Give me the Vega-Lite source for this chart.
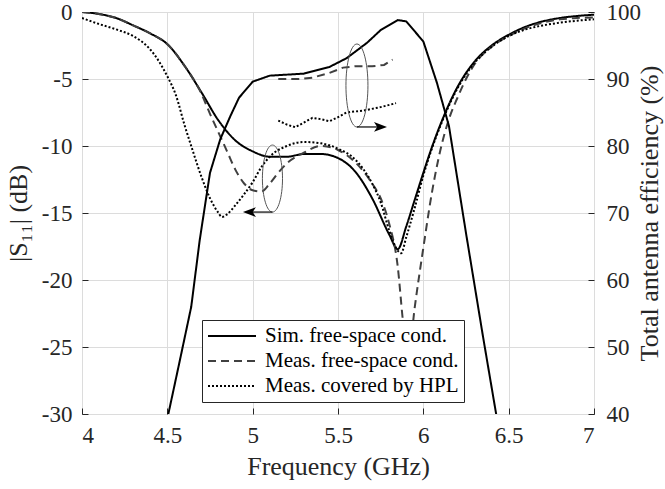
{
  "$schema": "https://vega.github.io/schema/vega-lite/v6.json",
  "width": 512,
  "height": 402,
  "autosize": "none",
  "padding": {"left": 82, "top": 12, "right": 71, "bottom": 75},
  "background": "white",
  "config": {
    "view": {"stroke": "#262626", "strokeWidth": 1},
    "font": "Liberation Serif",
    "axis": {
      "labelFont": "Liberation Serif",
      "titleFont": "Liberation Serif",
      "labelFontSize": 23,
      "titleFontSize": 26,
      "titleFontWeight": "normal",
      "labelColor": "#262626",
      "titleColor": "#262626",
      "domain": false,
      "tickColor": "#262626",
      "tickSize": -6,
      "gridColor": "#dcdcdc",
      "gridWidth": 1
    }
  },
  "datasets": {
    "s11": [
      {"f": 4.0, "v": 0, "series": "Sim. free-space cond."},
      {"f": 4.1, "v": -0.15, "series": "Sim. free-space cond."},
      {"f": 4.2, "v": -0.45, "series": "Sim. free-space cond."},
      {"f": 4.3, "v": -1.0, "series": "Sim. free-space cond."},
      {"f": 4.4, "v": -1.6, "series": "Sim. free-space cond."},
      {"f": 4.5, "v": -2.4, "series": "Sim. free-space cond."},
      {"f": 4.6, "v": -4.0, "series": "Sim. free-space cond."},
      {"f": 4.7, "v": -6.0, "series": "Sim. free-space cond."},
      {"f": 4.8, "v": -8.1, "series": "Sim. free-space cond."},
      {"f": 4.9, "v": -9.6, "series": "Sim. free-space cond."},
      {"f": 5.0, "v": -10.4, "series": "Sim. free-space cond."},
      {"f": 5.1, "v": -10.8, "series": "Sim. free-space cond."},
      {"f": 5.2, "v": -10.8, "series": "Sim. free-space cond."},
      {"f": 5.3, "v": -10.6, "series": "Sim. free-space cond."},
      {"f": 5.4, "v": -10.6, "series": "Sim. free-space cond."},
      {"f": 5.5, "v": -10.9, "series": "Sim. free-space cond."},
      {"f": 5.6, "v": -11.9, "series": "Sim. free-space cond."},
      {"f": 5.7, "v": -13.9, "series": "Sim. free-space cond."},
      {"f": 5.8, "v": -16.6, "series": "Sim. free-space cond."},
      {"f": 5.85, "v": -17.7, "series": "Sim. free-space cond."},
      {"f": 5.9, "v": -16.0, "series": "Sim. free-space cond."},
      {"f": 5.95, "v": -14.0, "series": "Sim. free-space cond."},
      {"f": 6.0, "v": -12.0, "series": "Sim. free-space cond."},
      {"f": 6.05, "v": -10.1, "series": "Sim. free-space cond."},
      {"f": 6.1, "v": -8.4, "series": "Sim. free-space cond."},
      {"f": 6.2, "v": -5.6, "series": "Sim. free-space cond."},
      {"f": 6.3, "v": -3.7, "series": "Sim. free-space cond."},
      {"f": 6.4, "v": -2.5, "series": "Sim. free-space cond."},
      {"f": 6.5, "v": -1.7, "series": "Sim. free-space cond."},
      {"f": 6.6, "v": -1.1, "series": "Sim. free-space cond."},
      {"f": 6.7, "v": -0.7, "series": "Sim. free-space cond."},
      {"f": 6.8, "v": -0.45, "series": "Sim. free-space cond."},
      {"f": 6.9, "v": -0.3, "series": "Sim. free-space cond."},
      {"f": 7.0, "v": -0.2, "series": "Sim. free-space cond."},

      {"f": 4.0, "v": 0, "series": "Meas. free-space cond."},
      {"f": 4.1, "v": -0.15, "series": "Meas. free-space cond."},
      {"f": 4.2, "v": -0.45, "series": "Meas. free-space cond."},
      {"f": 4.3, "v": -1.0, "series": "Meas. free-space cond."},
      {"f": 4.4, "v": -1.6, "series": "Meas. free-space cond."},
      {"f": 4.5, "v": -2.4, "series": "Meas. free-space cond."},
      {"f": 4.6, "v": -4.0, "series": "Meas. free-space cond."},
      {"f": 4.7, "v": -6.1, "series": "Meas. free-space cond."},
      {"f": 4.75, "v": -7.6, "series": "Meas. free-space cond."},
      {"f": 4.8, "v": -9.0, "series": "Meas. free-space cond."},
      {"f": 4.85, "v": -10.4, "series": "Meas. free-space cond."},
      {"f": 4.9, "v": -11.8, "series": "Meas. free-space cond."},
      {"f": 4.95, "v": -12.8, "series": "Meas. free-space cond."},
      {"f": 5.0, "v": -13.3, "series": "Meas. free-space cond."},
      {"f": 5.05, "v": -13.4, "series": "Meas. free-space cond."},
      {"f": 5.1, "v": -12.8, "series": "Meas. free-space cond."},
      {"f": 5.15, "v": -12.0, "series": "Meas. free-space cond."},
      {"f": 5.2, "v": -11.3, "series": "Meas. free-space cond."},
      {"f": 5.3, "v": -10.5, "series": "Meas. free-space cond."},
      {"f": 5.4, "v": -10.0, "series": "Meas. free-space cond."},
      {"f": 5.5, "v": -10.3, "series": "Meas. free-space cond."},
      {"f": 5.6, "v": -11.2, "series": "Meas. free-space cond."},
      {"f": 5.7, "v": -12.8, "series": "Meas. free-space cond."},
      {"f": 5.75, "v": -13.9, "series": "Meas. free-space cond."},
      {"f": 5.8, "v": -15.8, "series": "Meas. free-space cond."},
      {"f": 5.85, "v": -19.0, "series": "Meas. free-space cond."},
      {"f": 5.88, "v": -23.0, "series": "Meas. free-space cond."},
      {"f": 5.91, "v": -26.0, "series": "Meas. free-space cond."},
      {"f": 5.95, "v": -22.0, "series": "Meas. free-space cond."},
      {"f": 6.0, "v": -17.6, "series": "Meas. free-space cond."},
      {"f": 6.05, "v": -13.5, "series": "Meas. free-space cond."},
      {"f": 6.1, "v": -10.3, "series": "Meas. free-space cond."},
      {"f": 6.15, "v": -8.0, "series": "Meas. free-space cond."},
      {"f": 6.2, "v": -6.4, "series": "Meas. free-space cond."},
      {"f": 6.25, "v": -5.0, "series": "Meas. free-space cond."},
      {"f": 6.3, "v": -3.9, "series": "Meas. free-space cond."},
      {"f": 6.4, "v": -2.6, "series": "Meas. free-space cond."},
      {"f": 6.5, "v": -1.8, "series": "Meas. free-space cond."},
      {"f": 6.6, "v": -1.2, "series": "Meas. free-space cond."},
      {"f": 6.7, "v": -0.8, "series": "Meas. free-space cond."},
      {"f": 6.8, "v": -0.55, "series": "Meas. free-space cond."},
      {"f": 6.9, "v": -0.45, "series": "Meas. free-space cond."},
      {"f": 7.0, "v": -0.4, "series": "Meas. free-space cond."},

      {"f": 4.0, "v": -0.45, "series": "Meas. covered by HPL"},
      {"f": 4.1, "v": -0.9, "series": "Meas. covered by HPL"},
      {"f": 4.2, "v": -1.3, "series": "Meas. covered by HPL"},
      {"f": 4.3, "v": -1.8, "series": "Meas. covered by HPL"},
      {"f": 4.4, "v": -2.8, "series": "Meas. covered by HPL"},
      {"f": 4.5, "v": -4.8, "series": "Meas. covered by HPL"},
      {"f": 4.55, "v": -6.2, "series": "Meas. covered by HPL"},
      {"f": 4.6, "v": -8.4, "series": "Meas. covered by HPL"},
      {"f": 4.65, "v": -10.4, "series": "Meas. covered by HPL"},
      {"f": 4.7, "v": -12.3, "series": "Meas. covered by HPL"},
      {"f": 4.75, "v": -13.9, "series": "Meas. covered by HPL"},
      {"f": 4.8, "v": -15.0, "series": "Meas. covered by HPL"},
      {"f": 4.82, "v": -15.3, "series": "Meas. covered by HPL"},
      {"f": 4.85, "v": -15.1, "series": "Meas. covered by HPL"},
      {"f": 4.9, "v": -14.4, "series": "Meas. covered by HPL"},
      {"f": 4.95, "v": -13.6, "series": "Meas. covered by HPL"},
      {"f": 5.0, "v": -12.7, "series": "Meas. covered by HPL"},
      {"f": 5.05, "v": -11.6, "series": "Meas. covered by HPL"},
      {"f": 5.1, "v": -10.8, "series": "Meas. covered by HPL"},
      {"f": 5.2, "v": -10.0, "series": "Meas. covered by HPL"},
      {"f": 5.3, "v": -9.7, "series": "Meas. covered by HPL"},
      {"f": 5.4, "v": -9.8, "series": "Meas. covered by HPL"},
      {"f": 5.5, "v": -10.2, "series": "Meas. covered by HPL"},
      {"f": 5.6, "v": -11.0, "series": "Meas. covered by HPL"},
      {"f": 5.7, "v": -12.8, "series": "Meas. covered by HPL"},
      {"f": 5.75, "v": -14.2, "series": "Meas. covered by HPL"},
      {"f": 5.8, "v": -16.3, "series": "Meas. covered by HPL"},
      {"f": 5.85, "v": -17.8, "series": "Meas. covered by HPL"},
      {"f": 5.87, "v": -18.0, "series": "Meas. covered by HPL"},
      {"f": 5.9, "v": -16.8, "series": "Meas. covered by HPL"},
      {"f": 5.95, "v": -14.6, "series": "Meas. covered by HPL"},
      {"f": 6.0, "v": -12.2, "series": "Meas. covered by HPL"},
      {"f": 6.05, "v": -10.2, "series": "Meas. covered by HPL"},
      {"f": 6.1, "v": -8.5, "series": "Meas. covered by HPL"},
      {"f": 6.2, "v": -5.7, "series": "Meas. covered by HPL"},
      {"f": 6.3, "v": -3.8, "series": "Meas. covered by HPL"},
      {"f": 6.4, "v": -2.6, "series": "Meas. covered by HPL"},
      {"f": 6.5, "v": -1.8, "series": "Meas. covered by HPL"},
      {"f": 6.6, "v": -1.3, "series": "Meas. covered by HPL"},
      {"f": 6.7, "v": -1.0, "series": "Meas. covered by HPL"},
      {"f": 6.8, "v": -0.8, "series": "Meas. covered by HPL"},
      {"f": 6.9, "v": -0.65, "series": "Meas. covered by HPL"},
      {"f": 7.0, "v": -0.55, "series": "Meas. covered by HPL"}
    ],
    "eff": [
      {"f": 4.5, "v": 39.3, "series": "Sim. free-space cond."},
      {"f": 4.57, "v": 47.6, "series": "Sim. free-space cond."},
      {"f": 4.64, "v": 56, "series": "Sim. free-space cond."},
      {"f": 4.69, "v": 66, "series": "Sim. free-space cond."},
      {"f": 4.75, "v": 76, "series": "Sim. free-space cond."},
      {"f": 4.81, "v": 81, "series": "Sim. free-space cond."},
      {"f": 4.87, "v": 84.5, "series": "Sim. free-space cond."},
      {"f": 4.92, "v": 87.2, "series": "Sim. free-space cond."},
      {"f": 5.0, "v": 89.6, "series": "Sim. free-space cond."},
      {"f": 5.1, "v": 90.5, "series": "Sim. free-space cond."},
      {"f": 5.3, "v": 90.8, "series": "Sim. free-space cond."},
      {"f": 5.45, "v": 91.8, "series": "Sim. free-space cond."},
      {"f": 5.55, "v": 93.1, "series": "Sim. free-space cond."},
      {"f": 5.67, "v": 95.4, "series": "Sim. free-space cond."},
      {"f": 5.75, "v": 97.3, "series": "Sim. free-space cond."},
      {"f": 5.85, "v": 98.8, "series": "Sim. free-space cond."},
      {"f": 5.9, "v": 98.6, "series": "Sim. free-space cond."},
      {"f": 6.0, "v": 95.6, "series": "Sim. free-space cond."},
      {"f": 6.08, "v": 89.4, "series": "Sim. free-space cond."},
      {"f": 6.15, "v": 83, "series": "Sim. free-space cond."},
      {"f": 6.25, "v": 67, "series": "Sim. free-space cond."},
      {"f": 6.35, "v": 51.5, "series": "Sim. free-space cond."},
      {"f": 6.43, "v": 39.5, "series": "Sim. free-space cond."},

      {"f": 5.15, "v": 90.0, "series": "Meas. free-space cond."},
      {"f": 5.2, "v": 90.0, "series": "Meas. free-space cond."},
      {"f": 5.28, "v": 90.0, "series": "Meas. free-space cond."},
      {"f": 5.35, "v": 90.2, "series": "Meas. free-space cond."},
      {"f": 5.45, "v": 90.9, "series": "Meas. free-space cond."},
      {"f": 5.53, "v": 91.7, "series": "Meas. free-space cond."},
      {"f": 5.6, "v": 91.9, "series": "Meas. free-space cond."},
      {"f": 5.7, "v": 91.9, "series": "Meas. free-space cond."},
      {"f": 5.77, "v": 92.1, "series": "Meas. free-space cond."},
      {"f": 5.82, "v": 92.9, "series": "Meas. free-space cond."},

      {"f": 5.15, "v": 83.8, "series": "Meas. covered by HPL"},
      {"f": 5.2, "v": 83.2, "series": "Meas. covered by HPL"},
      {"f": 5.25, "v": 82.8, "series": "Meas. covered by HPL"},
      {"f": 5.3, "v": 83.5, "series": "Meas. covered by HPL"},
      {"f": 5.35, "v": 84.2, "series": "Meas. covered by HPL"},
      {"f": 5.4, "v": 84.0, "series": "Meas. covered by HPL"},
      {"f": 5.45, "v": 83.7, "series": "Meas. covered by HPL"},
      {"f": 5.5, "v": 84.3, "series": "Meas. covered by HPL"},
      {"f": 5.55, "v": 85.0, "series": "Meas. covered by HPL"},
      {"f": 5.65, "v": 85.3, "series": "Meas. covered by HPL"},
      {"f": 5.75, "v": 85.8, "series": "Meas. covered by HPL"},
      {"f": 5.84, "v": 86.4, "series": "Meas. covered by HPL"}
    ]
  },
  "layer": [
    {
      "encoding": {
        "x": {
          "field": "f", "type": "quantitative",
          "scale": {"domain": [4, 7], "nice": false, "zero": false},
          "axis": {
            "orient": "bottom", "title": "Frequency (GHz)",
            "values": [4, 4.5, 5, 5.5, 6, 6.5, 7],
            "labelExpr": "'' + datum.value",
            "grid": true, "labelPadding": 16, "titlePadding": 6
          }
        },
        "y": {
          "field": "v", "type": "quantitative",
          "scale": {"domain": [-30, 0], "nice": false, "zero": false},
          "axis": {
            "orient": "left", "title": "|S₁₁| (dB)",
            "values": [-30, -25, -20, -15, -10, -5, 0],
            "labelExpr": "'' + datum.value",
            "grid": true, "labelPadding": 16, "titlePadding": 10
          }
        }
      },
      "layer": [
        {
          "data": {"name": "s11"},
          "mark": {"type": "line", "interpolate": "monotone", "strokeWidth": 2, "clip": true},
          "encoding": {
            "color": {
              "field": "series", "type": "nominal",
              "scale": {
                "domain": ["Sim. free-space cond.", "Meas. free-space cond.", "Meas. covered by HPL"],
                "range": ["#000000", "#404040", "#000000"]
              },
              "legend": {
                "orient": "none", "legendX": 120, "legendY": 308, "title": null,
                "symbolType": "stroke", "symbolSize": 2304, "symbolStrokeWidth": 2,
                "labelFont": "Liberation Serif", "labelFontSize": 21, "labelColor": "#000000",
                "labelOffset": 8, "labelLimit": 400, "padding": 5, "rowPadding": 3, "clipHeight": 22,
                "strokeColor": "#262626", "fillColor": "white"
              }
            },
            "strokeDash": {
              "field": "series", "type": "nominal",
              "scale": {
                "domain": ["Sim. free-space cond.", "Meas. free-space cond.", "Meas. covered by HPL"],
                "range": [[1, 0], [8, 5], [2, 2]]
              },
              "legend": {
                "orient": "none", "legendX": 120, "legendY": 308, "title": null,
                "symbolType": "stroke", "symbolSize": 2304, "symbolStrokeWidth": 2,
                "labelFont": "Liberation Serif", "labelFontSize": 21, "labelColor": "#000000",
                "labelOffset": 8, "labelLimit": 400, "padding": 5, "rowPadding": 3, "clipHeight": 22,
                "strokeColor": "#262626", "fillColor": "white"
              }
            }
          }
        },
        {
          "data": {"values": [{"f": 5.116, "v": -12.43}]},
          "mark": {
            "type": "point",
            "shape": "M0,-1C0.166,-1 0.3,-0.552 0.3,0C0.3,0.552 0.166,1 0,1C-0.166,1 -0.3,0.552 -0.3,0C-0.3,-0.552 -0.166,-1 0,-1Z",
            "size": 4489, "filled": false, "stroke": "#555555", "strokeWidth": 1, "opacity": 1
          }
        },
        {
          "data": {"values": [{"f": 5.116, "f2": 4.99, "v": -14.93}]},
          "mark": {"type": "rule", "color": "#000000", "strokeWidth": 1.2},
          "encoding": {"x2": {"field": "f2"}}
        },
        {
          "data": {"values": [{"f": 4.981, "v": -14.93}]},
          "mark": {
            "type": "point", "shape": "M-1,0L1,-0.75L0.5,0L1,0.75Z",
            "size": 169, "filled": true, "fill": "#000000", "strokeWidth": 0, "opacity": 1
          }
        }
      ]
    },
    {
      "encoding": {
        "x": {"field": "f", "type": "quantitative", "scale": {"domain": [4, 7], "nice": false, "zero": false}},
        "y": {
          "field": "v", "type": "quantitative",
          "scale": {"domain": [40, 100], "nice": false, "zero": false},
          "axis": {
            "orient": "right", "title": "Total antenna efficiency (%)",
            "values": [40, 50, 60, 70, 80, 90, 100],
            "labelExpr": "'' + datum.value",
            "grid": false, "labelPadding": 18, "titlePadding": -4,
            "titleAngle": 270, "titleBaseline": "top"
          }
        }
      },
      "layer": [
        {
          "data": {"name": "eff"},
          "mark": {"type": "line", "interpolate": "linear", "strokeWidth": 2, "clip": true},
          "encoding": {
            "color": {"field": "series", "type": "nominal", "legend": null},
            "strokeDash": {"field": "series", "type": "nominal", "legend": null}
          }
        },
        {
          "data": {"values": [{"f": 5.611, "v": 89.03}]},
          "mark": {
            "type": "point",
            "shape": "M0,-1C0.146,-1 0.265,-0.552 0.265,0C0.265,0.552 0.146,1 0,1C-0.146,1 -0.265,0.552 -0.265,0C-0.265,-0.552 -0.146,-1 0,-1Z",
            "size": 6889, "filled": false, "stroke": "#555555", "strokeWidth": 1, "opacity": 1
          }
        },
        {
          "data": {"values": [{"f": 5.611, "f2": 5.76, "v": 82.84}]},
          "mark": {"type": "rule", "color": "#000000", "strokeWidth": 1.2},
          "encoding": {"x2": {"field": "f2"}}
        },
        {
          "data": {"values": [{"f": 5.749, "v": 82.84}]},
          "mark": {
            "type": "point", "shape": "M1,0L-1,-0.75L-0.5,0L-1,0.75Z",
            "size": 169, "filled": true, "fill": "#000000", "strokeWidth": 0, "opacity": 1
          }
        }
      ]
    }
  ],
  "resolve": {"scale": {"y": "independent"}}
}
